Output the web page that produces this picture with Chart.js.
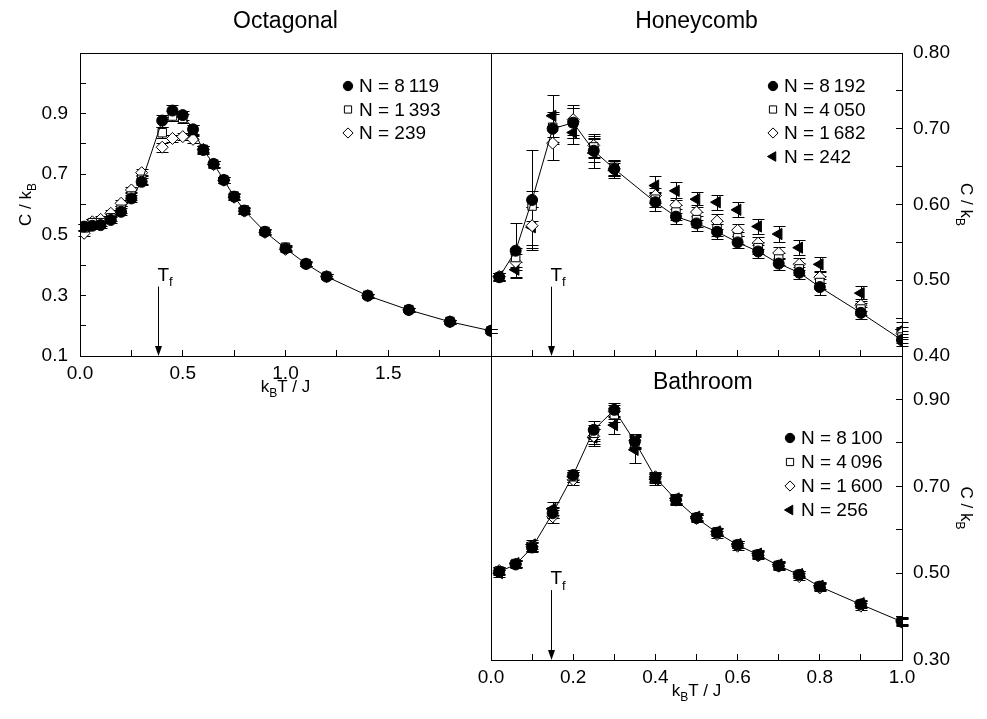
<!DOCTYPE html>
<html>
<head>
<meta charset="utf-8">
<script src="https://cdn.jsdelivr.net/npm/chart.js@4/dist/chart.umd.min.js"></script>
<style>
  html, body { margin: 0; padding: 0; background: #fff; }
  #wrap { position: relative; width: 987px; height: 719px; overflow: hidden; }
  #wrap canvas { position: absolute; left: 0; top: 0; }
</style>
</head>
<body>
<div id="wrap">
  <canvas id="octagonal" width="987" height="719"></canvas>
  <canvas id="honeycomb" width="987" height="719"></canvas>
  <canvas id="bathroom" width="987" height="719"></canvas>
</div>
<script>
// ---- data ----

// Octagonal
const octT = [0.02, 0.06, 0.1, 0.15, 0.2, 0.25, 0.3, 0.4, 0.45, 0.5, 0.55, 0.6, 0.65, 0.7, 0.75, 0.8, 0.9, 1.0, 1.1, 1.2, 1.4, 1.6, 1.8, 2.0];
const oct8119 = [0.527, 0.530, 0.532, 0.549, 0.576, 0.620, 0.675, 0.877, 0.910, 0.895, 0.848, 0.780, 0.734, 0.681, 0.626, 0.580, 0.510, 0.455, 0.404, 0.362, 0.299, 0.252, 0.213, 0.183];
const oct1393 = [0.523, 0.540, 0.540, 0.556, 0.584, 0.628, 0.683, 0.837, 0.892, 0.884, 0.846, 0.782, 0.734, 0.681, 0.628, 0.582, 0.511, 0.459, 0.405, 0.363, 0.300, 0.253, 0.214, 0.183];
const oct239 = [0.505, 0.543, 0.551, 0.571, 0.604, 0.648, 0.705, 0.789, 0.818, 0.824, 0.815, 0.782, 0.732, 0.680, 0.624, 0.578, 0.508, 0.452, 0.404, 0.362, 0.299, 0.252, 0.213, 0.183];
const oct8119Err = [0.01, 0.01, 0.01, 0.01, 0.012, 0.012, 0.012, 0.02, 0.02, 0.015, 0.015, 0.012, 0.01, 0.01, 0.01, 0.01, 0.008, 0.008, 0.007, 0.007, 0.006, 0.006, 0.006, 0.006];
const oct1393Err = [0.012, 0.012, 0.012, 0.012, 0.012, 0.012, 0.015, 0.018, 0.015, 0.015, 0.015, 0.012, 0.01, 0.01, 0.01, 0.01, 0.008, 0.008, 0.007, 0.007, 0.006, 0.006, 0.006, 0.006];
const oct239Err = [0.01, 0.01, 0.01, 0.01, 0.01, 0.01, 0.012, 0.015, 0.012, 0.012, 0.012, 0.01, 0.01, 0.01, 0.01, 0.01, 0.008, 0.008, 0.007, 0.007, 0.006, 0.006, 0.006, 0.006];
const octSizes = ['8\u2009119', '1\u2009393', '239'];
const octTf = 0.381;

// Honeycomb
const honT = [0.02, 0.06, 0.1, 0.15, 0.2, 0.25, 0.3, 0.4, 0.45, 0.5, 0.55, 0.6, 0.65, 0.7, 0.75, 0.8, 0.9, 1.0];
const hon8192 = [0.504, 0.539, 0.606, 0.700, 0.708, 0.671, 0.647, 0.603, 0.584, 0.575, 0.564, 0.550, 0.538, 0.522, 0.510, 0.491, 0.457, 0.421];
const hon4050 = [0.504, 0.530, 0.598, 0.702, 0.708, 0.676, 0.649, 0.607, 0.590, 0.580, 0.568, 0.556, 0.543, 0.528, 0.515, 0.497, 0.462, 0.425];
const hon1682 = [0.505, 0.524, 0.572, 0.681, 0.712, 0.678, 0.647, 0.612, 0.599, 0.590, 0.578, 0.566, 0.549, 0.536, 0.521, 0.504, 0.467, 0.430];
const hon242 = [0.505, 0.514, 0.570, 0.717, 0.695, 0.668, 0.645, 0.625, 0.618, 0.607, 0.603, 0.593, 0.571, 0.561, 0.543, 0.521, 0.483, 0.435];
const hon8192Err = [0.005, 0.036, 0.066, 0.02, 0.02, 0.015, 0.01, 0.012, 0.01, 0.01, 0.01, 0.008, 0.008, 0.008, 0.008, 0.01, 0.008, 0.008];
const hon4050Err = [0.005, 0.012, 0.02, 0.02, 0.02, 0.015, 0.01, 0.01, 0.01, 0.01, 0.01, 0.008, 0.008, 0.008, 0.008, 0.008, 0.008, 0.008];
const hon1682Err = [0.005, 0.01, 0.025, 0.022, 0.02, 0.015, 0.01, 0.01, 0.01, 0.01, 0.01, 0.008, 0.008, 0.008, 0.008, 0.008, 0.008, 0.008];
const hon242Err = [0.005, 0.01, 0.027, 0.028, 0.015, 0.02, 0.01, 0.012, 0.012, 0.01, 0.01, 0.01, 0.01, 0.01, 0.01, 0.01, 0.01, 0.01];
const honSizes = ['8\u2009192', '4\u2009050', '1\u2009682', '242'];
const honTf = 0.147;

// Bathroom
const bathT = [0.02, 0.06, 0.1, 0.15, 0.2, 0.25, 0.3, 0.35, 0.4, 0.45, 0.5, 0.55, 0.6, 0.65, 0.7, 0.75, 0.8, 0.9, 1.0];
const bath8100 = [0.503, 0.520, 0.559, 0.638, 0.726, 0.830, 0.876, 0.803, 0.720, 0.669, 0.627, 0.593, 0.565, 0.542, 0.517, 0.496, 0.469, 0.428, 0.388];
const bath4096 = [0.505, 0.522, 0.562, 0.640, 0.722, 0.822, 0.865, 0.800, 0.718, 0.670, 0.628, 0.595, 0.566, 0.543, 0.518, 0.497, 0.470, 0.429, 0.389];
const bath1600 = [0.506, 0.521, 0.561, 0.630, 0.715, 0.815, 0.872, 0.806, 0.722, 0.668, 0.626, 0.589, 0.562, 0.540, 0.516, 0.492, 0.466, 0.424, 0.387];
const bath256 = [0.500, 0.523, 0.566, 0.648, 0.722, 0.812, 0.841, 0.784, 0.716, 0.672, 0.630, 0.596, 0.567, 0.545, 0.520, 0.498, 0.471, 0.431, 0.390];
const bath8100Err = [0.008, 0.008, 0.01, 0.012, 0.012, 0.02, 0.016, 0.015, 0.01, 0.01, 0.008, 0.008, 0.008, 0.008, 0.008, 0.008, 0.008, 0.008, 0.008];
const bath4096Err = [0.008, 0.008, 0.01, 0.012, 0.012, 0.018, 0.016, 0.015, 0.01, 0.01, 0.008, 0.008, 0.008, 0.008, 0.008, 0.008, 0.008, 0.008, 0.008];
const bath1600Err = [0.008, 0.008, 0.01, 0.015, 0.012, 0.018, 0.016, 0.015, 0.01, 0.01, 0.008, 0.008, 0.008, 0.008, 0.008, 0.008, 0.008, 0.008, 0.008];
const bath256Err = [0.008, 0.008, 0.01, 0.015, 0.012, 0.02, 0.02, 0.03, 0.012, 0.01, 0.008, 0.008, 0.008, 0.008, 0.008, 0.008, 0.008, 0.008, 0.008];
const bathSizes = ['8\u2009100', '4\u2009096', '1\u2009600', '256'];
const bathTf = 0.147;

// ticks
const octXTicks = [0, 0.25, 0.5, 0.75, 1, 1.25, 1.5, 1.75, 2];
const octXLabels = ['0.0', '', '0.5', '', '1.0', '', '1.5', '', ''];
const octYTicks = [0.1, 0.2, 0.3, 0.4, 0.5, 0.6, 0.7, 0.8, 0.9, 1.0, 1.1];
const octYLabels = ['0.1', '', '0.3', '', '0.5', '', '0.7', '', '0.9', '', ''];
const honXTicks = [0, 0.1, 0.2, 0.3, 0.4, 0.5, 0.6, 0.7, 0.8, 0.9, 1.0];
const honYTicks = [0.4, 0.45, 0.5, 0.55, 0.6, 0.65, 0.7, 0.75, 0.8];
const honYLabels = ['0.40', '', '0.50', '', '0.60', '', '0.70', '', '0.80'];
const bathXTicks = [0, 0.1, 0.2, 0.3, 0.4, 0.5, 0.6, 0.7, 0.8, 0.9, 1.0];
const bathXLabels = ['0.0', '', '0.2', '', '0.4', '', '0.6', '', '0.8', '', '1.0'];
const bathYTicks = [0.3, 0.4, 0.5, 0.6, 0.7, 0.8, 0.9, 1.0];
const bathYLabels = ['0.30', '', '0.50', '', '0.70', '', '0.90', ''];

// ---- styles ----
const FONT = 'Liberation Sans, Arial, sans-serif';
Chart.defaults.font.family = FONT;
Chart.defaults.color = '#000';

const filledCircle = { pointStyle: 'circle', pointRadius: 5.5, backgroundColor: '#000', borderColor: '#000', pointBorderWidth: 1 };
const openSquare = { pointStyle: 'rect', pointRadius: 6, backgroundColor: '#fff', borderColor: '#000', pointBorderWidth: 1 };
const openDiamond = { pointStyle: 'rectRot', pointRadius: 6, backgroundColor: '#fff', borderColor: '#000', pointBorderWidth: 1 };
const filledTriangle = { pointStyle: 'triangle', pointRotation: 270, pointRadius: 6.5, backgroundColor: '#000', borderColor: '#000', pointBorderWidth: 1 };

function series(label, xs, ys, errs, style, line) {
    return Object.assign({
        label: 'N = ' + label,
        data: xs.map((x, i) => ({ x: x, y: ys[i] })),
        errors: errs,
        showLine: !!line,
        borderWidth: 1,
        fill: false
    }, style);
}

// draws text with subscripts, parts = [[text, isSub], ...]
function drawRich(ctx, parts, x, y, size, align) {
    const sub = Math.round(size * 0.7);
    let w = 0;
    parts.forEach(p => {
        ctx.font = (p[1] ? sub : size) + 'px ' + FONT;
        w += ctx.measureText(p[0]).width;
    });
    let cx = align === 'center' ? x - w / 2 : x;
    ctx.textBaseline = 'alphabetic';
    ctx.textAlign = 'left';
    parts.forEach(p => {
        ctx.font = (p[1] ? sub : size) + 'px ' + FONT;
        ctx.fillText(p[0], cx, y + (p[1] ? size * 0.3 : 0));
        cx += ctx.measureText(p[0]).width;
    });
}

const cTitle = [['C / k', false], ['B', true]];
const tTitle = [['k', false], ['B', true], ['T / J', false]];

const decor = {
    id: 'decor',
    beforeDatasetsDraw(chart) {
        const ctx = chart.ctx, xs = chart.scales.x, ys = chart.scales.y;
        ctx.save();
        ctx.strokeStyle = '#000';
        ctx.lineWidth = 1;
        chart.data.datasets.forEach(ds => {
            if (!ds.errors) return;
            ds.data.forEach((p, i) => {
                const e = ds.errors[i];
                if (!e) return;
                const px = Math.round(xs.getPixelForValue(p.x)) + 0.5;
                const top = Math.round(ys.getPixelForValue(p.y + e)) + 0.5;
                const bot = Math.round(ys.getPixelForValue(p.y - e)) + 0.5;
                ctx.beginPath();
                ctx.moveTo(px, top); ctx.lineTo(px, bot);
                ctx.moveTo(px - 6, top); ctx.lineTo(px + 6, top);
                ctx.moveTo(px - 6, bot); ctx.lineTo(px + 6, bot);
                ctx.stroke();
            });
        });
        ctx.restore();
    },
    afterDraw(chart, args, opts) {
        const ctx = chart.ctx, a = chart.chartArea;
        const xs = chart.scales.x, ys = chart.scales.y;
        ctx.save();
        ctx.fillStyle = '#000';
        ctx.strokeStyle = '#000';
        ctx.lineWidth = 1;

        // frame
        ctx.strokeRect(Math.round(a.left) + 0.5, Math.round(a.top) + 0.5, Math.round(a.right - a.left), Math.round(a.bottom - a.top));

        // panel title
        ctx.font = '23px ' + FONT;
        ctx.textBaseline = 'middle';
        if (opts.titleDx === undefined) {
            ctx.textAlign = 'center';
            ctx.fillText(opts.title, (a.left + a.right) / 2, a.top + opts.titleDy);
        } else {
            ctx.textAlign = 'left';
            ctx.fillText(opts.title, a.right + opts.titleDx, a.top + opts.titleDy);
        }

        // legend
        const lg = opts.legend;
        chart.data.datasets.forEach((ds, i) => {
            const lx = a.right + lg.dx, ly = a.top + lg.dy + i * lg.gap;
            ctx.fillStyle = ds.backgroundColor;
            ctx.strokeStyle = '#000';
            ctx.lineWidth = 1;
            Chart.helpers.drawPoint(ctx, { pointStyle: ds.pointStyle, radius: ds.pointRadius * 0.85, rotation: ds.pointRotation || 0, borderWidth: 1 }, lx, ly);
            ctx.fillStyle = '#000';
            ctx.font = '19px ' + FONT;
            ctx.textAlign = 'left';
            ctx.textBaseline = 'middle';
            ctx.fillText(ds.label, lx + 11, ly + 1);
        });

        // T_f arrow
        const fx = Math.round(xs.getPixelForValue(opts.tf)) + 0.5;
        const fy = ys.getPixelForValue(opts.tfTop);
        ctx.beginPath();
        ctx.moveTo(fx, fy);
        ctx.lineTo(fx, a.bottom - 8);
        ctx.stroke();
        ctx.beginPath();
        ctx.moveTo(fx - 3.5, a.bottom - 10);
        ctx.lineTo(fx + 3.5, a.bottom - 10);
        ctx.lineTo(fx, a.bottom);
        ctx.closePath();
        ctx.fill();
        drawRich(ctx, [['T', false], ['f', true]], fx - 1, fy - 6, 19, 'left');

        // axis titles
        if (opts.yTitle) {
            const side = opts.yTitle.side;
            const x = side === 'left' ? a.left + opts.yTitle.dx : a.right + opts.yTitle.dx;
            ctx.save();
            ctx.translate(x, (a.top + a.bottom) / 2);
            ctx.rotate(side === 'left' ? -Math.PI / 2 : Math.PI / 2);
            drawRich(ctx, cTitle, 0, 6, 17, 'center');
            ctx.restore();
        }
        if (opts.xTitle) {
            drawRich(ctx, tTitle, (a.left + a.right) / 2, a.bottom + opts.xTitle.dy, 17, 'center');
        }
        ctx.restore();
    }
};

function axis(pos, min, max, tickVals, labels, size, pad, showLabels) {
    const horiz = pos === 'bottom';
    return {
        type: 'linear',
        position: pos,
        min: min,
        max: max,
        afterBuildTicks: s => { s.ticks = tickVals.map(v => ({ value: v })); },
        afterFit: s => { if (horiz) { s.height = size; } else { s.width = size; } },
        grid: { drawOnChartArea: false, tickLength: -6, tickColor: '#000', tickWidth: 1 },
        border: { color: '#000', width: 1 },
        ticks: {
            display: showLabels,
            padding: pad,
            autoSkip: false,
            maxRotation: 0,
            font: { size: 19 },
            callback: (v, i) => labels ? labels[i] : ''
        }
    };
}

function baseOptions(padding, scales, decorOpts) {
    return {
        responsive: false,
        animation: false,
        events: [],
        layout: { padding: padding },
        scales: scales,
        plugins: { legend: { display: false }, tooltip: { enabled: false }, decor: decorOpts }
    };
}

// Octagonal panel
new Chart(document.getElementById('octagonal'), {
    type: 'scatter',
    data: {
        datasets: [
            series(octSizes[0], octT, oct8119, oct8119Err, filledCircle, true),
            series(octSizes[1], octT, oct1393, oct1393Err, openSquare),
            series(octSizes[2], octT, oct239, oct239Err, openDiamond)
        ]
    },
    options: baseOptions(
        { left: 30, right: 496, top: 53, bottom: 323 },
        {
            x: axis('bottom', 0, 2, octXTicks, octXLabels, 40, 12, true),
            y: axis('left', 0.1, 1.1, octYTicks, octYLabels, 50, 18, true)
        },
        {
            title: 'Octagonal', titleDy: -31,
            legend: { dx: -143, dy: 33, gap: 23.5 },
            tf: octTf, tfTop: 0.329,
            yTitle: { side: 'left', dx: -55 },
            xTitle: { dy: 36 }
        }
    ),
    plugins: [decor]
});

// Honeycomb panel
new Chart(document.getElementById('honeycomb'), {
    type: 'scatter',
    data: {
        datasets: [
            series(honSizes[0], honT, hon8192, hon8192Err, filledCircle, true),
            series(honSizes[1], honT, hon4050, hon4050Err, openSquare),
            series(honSizes[2], honT, hon1682, hon1682Err, openDiamond),
            series(honSizes[3], honT, hon242, hon242Err, filledTriangle)
        ]
    },
    options: baseOptions(
        { left: 491, right: 25, top: 53, bottom: 353 },
        {
            x: axis('bottom', 0, 1, honXTicks, null, 10, 12, false),
            y: axis('right', 0.4, 0.8, honYTicks, honYLabels, 60, 17, true)
        },
        {
            title: 'Honeycomb', titleDy: -31,
            legend: { dx: -129, dy: 33, gap: 23.5 },
            tf: honTf, tfTop: 0.4915,
            yTitle: { side: 'right', dx: 65 }
        }
    ),
    plugins: [decor]
});

// Bathroom panel
new Chart(document.getElementById('bathroom'), {
    type: 'scatter',
    data: {
        datasets: [
            series(bathSizes[0], bathT, bath8100, bath8100Err, filledCircle, true),
            series(bathSizes[1], bathT, bath4096, bath4096Err, openSquare),
            series(bathSizes[2], bathT, bath1600, bath1600Err, openDiamond),
            series(bathSizes[3], bathT, bath256, bath256Err, filledTriangle)
        ]
    },
    options: baseOptions(
        { left: 491, right: 25, top: 356, bottom: 9 },
        {
            x: axis('bottom', 0, 1, bathXTicks, bathXLabels, 50, 12, true),
            y: axis('right', 0.3, 1.0, bathYTicks, bathYLabels, 60, 17, true)
        },
        {
            title: 'Bathroom', titleDx: -249, titleDy: 27,
            legend: { dx: -112, dy: 82, gap: 24 },
            tf: bathTf, tfTop: 0.461,
            yTitle: { side: 'right', dx: 65 },
            xTitle: { dy: 36 }
        }
    ),
    plugins: [decor]
});
</script>
</body>
</html>
